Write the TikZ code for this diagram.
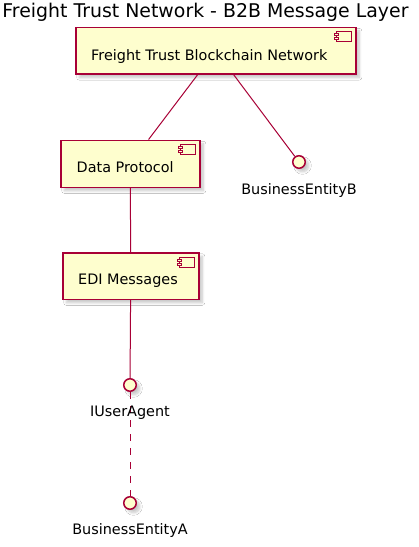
\documentclass[tikz,border=0pt]{standalone}
\usepackage{fontspec}
\setmainfont{DejaVu Sans}
\usetikzlibrary{shadows.blur,calc}
\definecolor{pbord}{HTML}{A80036}
\definecolor{pfill}{HTML}{FEFECE}
\begin{document}
\begin{tikzpicture}[x=1pt,y=-1pt,
  shd/.style={blur shadow={shadow xshift=3.5pt, shadow yshift=-3.5pt, shadow blur steps=8, shadow blur radius=2.5pt, shadow opacity=22}},
  comp/.style={draw=pbord, fill=pfill, line width=1.5pt, rectangle, inner sep=0pt, anchor=north west, shd},
  iface/.style={draw=pbord, fill=pfill, line width=1.5pt, circle, inner sep=0pt, minimum size=12.5pt, shd},
  icon/.style={draw=pbord, fill=pfill, line width=1pt},
  lbl/.style={font=\fontsize{14.4}{16}\selectfont, inner sep=0pt},
  conn/.style={draw=pbord, line width=1pt},
  dconn/.style={conn, dash pattern=on 7pt off 7pt}]
\useasboundingbox[fill=white] (0,0) rectangle (419,547);
\node[font=\fontsize{18.9}{21}\selectfont, inner sep=0pt, anchor=base] (title) at (205.5,17.8) {Freight Trust Network - B2B Message Layer};
% components
\node[comp, minimum width=280pt, minimum height=46.6pt] (fb) at (75,26.7) {};
\node[comp, minimum width=139pt, minimum height=47pt] (dp) at (60,139.5) {};
\node[comp, minimum width=136pt, minimum height=46.5pt] (edi) at (62,252) {};
% interfaces
\node[iface] (ib) at (299,162) {};
\node[iface] (iu) at (130,385) {};
\node[iface] (ia) at (130,503) {};
% connectors
\draw[conn] (fb) -- (dp);
\draw[conn] (fb) -- (ib);
\draw[conn] (dp) -- (edi);
\draw[conn] (edi) -- (iu);
\draw[dconn] (iu) -- (ia);
% component icons
\foreach \c in {fb,dp,edi}{
  \draw[icon] ($(\c.north east)+(-20,5)$) rectangle +(15,10);
  \draw[icon] ($(\c.north east)+(-22,7)$) rectangle +(4,2);
  \draw[icon] ($(\c.north east)+(-22,11)$) rectangle +(4,2);
}
% labels
\node[lbl, anchor=base west] (fbt) at ($(fb.north west)+(16,33.8)$) {Freight Trust Blockchain Network};
\node[lbl, anchor=base west] (dpt) at ($(dp.north west)+(16.5,33.3)$) {Data Protocol};
\node[lbl, anchor=base west] (edit) at ($(edi.north west)+(16,32.8)$) {EDI Messages};
\node[lbl, anchor=base] (ibt) at ($(ib)+(0,32.8)$) {BusinessEntityB};
\node[lbl, anchor=base] (iut) at ($(iu)+(0,31.3)$) {IUserAgent};
\node[lbl, anchor=base] (iat) at ($(ia)+(0,31.8)$) {BusinessEntityA};
\end{tikzpicture}
\end{document}
